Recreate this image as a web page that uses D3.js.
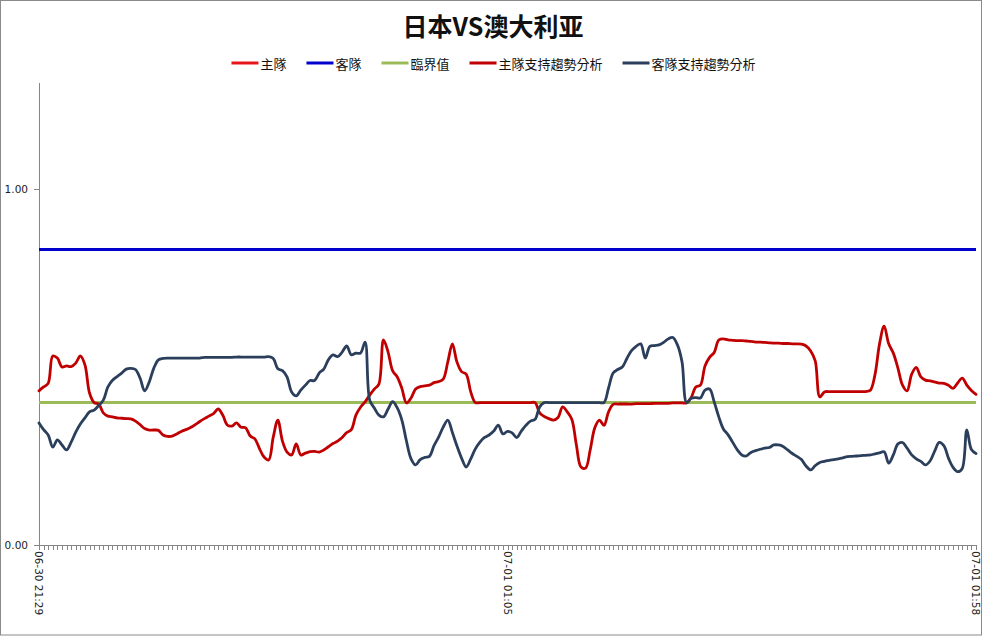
<!DOCTYPE html>
<html><head><meta charset="utf-8">
<script src="https://cdn.jsdelivr.net/npm/d3@7"></script>
<style>body{margin:0;background:#fff} svg{display:block}</style>
</head><body>
<svg id="c" width="983" height="636"></svg>
<script>
const chartTitle = "日本VS澳大利亚";
const seriesNames = ["主隊","客隊","臨界值","主隊支持趨勢分析","客隊支持趨勢分析"];
const seriesColors = ["#E8141C","#0000CC","#9BBB59","#C00000","#2B3F5C"];

// 主隊 line is not visible in the plotted range
const homeOdds = null;
const awayOdds = 0.83;
const threshold = 0.40;

const homeTrend = [
0.433,0.444,0.454,0.531,0.525,0.500,0.503,0.501,0.511,0.531,
0.506,0.427,0.400,0.396,0.371,0.362,0.360,0.357,0.356,0.355,
0.354,0.348,0.338,0.327,0.323,0.323,0.322,0.309,0.305,0.306,
0.312,0.319,0.324,0.330,0.338,0.347,0.355,0.362,0.369,0.382,
0.365,0.337,0.334,0.343,0.331,0.329,0.306,0.298,0.271,0.247,
0.239,0.303,0.351,0.292,0.261,0.253,0.284,0.253,0.258,0.262,
0.263,0.261,0.267,0.276,0.285,0.292,0.302,0.316,0.324,0.365,
0.387,0.402,0.421,0.438,0.452,0.576,0.542,0.489,0.472,0.440,
0.399,0.413,0.438,0.445,0.447,0.449,0.456,0.459,0.466,0.514,
0.565,0.514,0.487,0.480,0.430,0.400,0.400,0.400,0.400,0.400,
0.400,0.400,0.400,0.400,0.400,0.400,0.400,0.400,0.400,0.371,
0.361,0.355,0.351,0.358,0.388,0.374,0.353,0.281,0.219,0.216,
0.267,0.329,0.351,0.336,0.374,0.395,0.396,0.396,0.396,0.396,
0.397,0.397,0.397,0.397,0.398,0.398,0.398,0.398,0.399,0.399,
0.399,0.399,0.414,0.444,0.449,0.503,0.527,0.541,0.576,0.579,
0.576,0.575,0.574,0.574,0.573,0.572,0.570,0.570,0.569,0.568,
0.567,0.567,0.566,0.566,0.565,0.565,0.564,0.559,0.545,0.517,
0.416,0.430,0.431,0.431,0.431,0.431,0.431,0.431,0.431,0.431,
0.431,0.435,0.478,0.565,0.615,0.565,0.539,0.497,0.449,0.433,
0.480,0.499,0.472,0.463,0.461,0.458,0.455,0.454,0.449,0.440,
0.455,0.469,0.449,0.434,0.423
];

const awayTrend = [
0.343,0.324,0.309,0.275,0.295,0.281,0.267,0.289,0.317,0.340,
0.357,0.374,0.379,0.392,0.407,0.444,0.463,0.473,0.483,0.494,
0.496,0.493,0.469,0.433,0.458,0.497,0.520,0.524,0.525,0.525,
0.525,0.525,0.525,0.525,0.525,0.525,0.527,0.527,0.527,0.527,
0.527,0.527,0.527,0.528,0.528,0.528,0.528,0.528,0.528,0.528,
0.529,0.524,0.495,0.490,0.472,0.430,0.419,0.435,0.449,0.462,
0.462,0.483,0.494,0.520,0.534,0.529,0.542,0.559,0.534,0.539,
0.539,0.570,0.407,0.385,0.365,0.360,0.382,0.403,0.385,0.351,
0.292,0.242,0.225,0.240,0.246,0.249,0.279,0.303,0.331,0.351,
0.316,0.278,0.244,0.219,0.242,0.270,0.289,0.302,0.309,0.320,
0.337,0.312,0.319,0.315,0.302,0.320,0.336,0.348,0.353,0.388,
0.400,0.400,0.400,0.400,0.400,0.400,0.400,0.400,0.400,0.400,
0.400,0.400,0.400,0.400,0.441,0.483,0.493,0.500,0.524,0.546,
0.558,0.565,0.525,0.558,0.560,0.562,0.569,0.579,0.583,0.562,
0.514,0.400,0.412,0.414,0.413,0.435,0.438,0.402,0.360,0.326,
0.310,0.289,0.268,0.253,0.250,0.260,0.265,0.269,0.272,0.274,
0.281,0.281,0.277,0.267,0.257,0.249,0.240,0.222,0.211,0.223,
0.232,0.235,0.238,0.240,0.242,0.245,0.248,0.249,0.250,0.251,
0.252,0.253,0.256,0.259,0.262,0.230,0.253,0.284,0.288,0.272,
0.253,0.242,0.235,0.225,0.236,0.264,0.288,0.279,0.244,0.218,
0.206,0.215,0.323,0.268,0.257
];

const xTickIndex = [0, 102, 204];
const xTickLabels = ["06-30 21:29","07-01 01:05","07-01 01:58"];
const yTicks = [0, 1];
const yMax = 1.3;

const W = 983, H = 636;
const N = awayTrend.length;
const categories = d3.range(N);
const svg = d3.select("#c");
const axisColor = "#868686";

svg.append("rect").attr("x",0.5).attr("y",0.5).attr("width",981).attr("height",634.5)
  .attr("fill","#fff").attr("stroke","#8a8a8a");

const x = d3.scalePoint().domain(categories).range([39, 976]);
const y = d3.scaleLinear().domain([0, yMax]).range([545, 545 - yMax*356]);

// Y axis
const gy = svg.append("g").attr("transform","translate(39,0)")
  .call(d3.axisLeft(y).tickValues(yTicks).tickSize(5).tickSizeOuter(0).tickPadding(6).tickFormat(d3.format(".2f")));
gy.selectAll("path,line").attr("stroke",axisColor).attr("shape-rendering","crispEdges");
gy.selectAll("text").attr("font-family","DejaVu Sans, sans-serif").attr("font-size","10.5px").attr("fill","#222");

// X axis
const gx = svg.append("g").attr("transform","translate(0,545)")
  .call(d3.axisBottom(x).tickValues(categories).tickSize(5).tickSizeOuter(0).tickFormat(""));
gx.selectAll("path,line").attr("stroke",axisColor).attr("shape-rendering","crispEdges");
gx.selectAll("text").remove();
xTickIndex.forEach((idx, k) => {
  svg.append("text")
    .attr("transform", `translate(${x(Math.min(idx, N-1))},551) rotate(90)`)
    .attr("text-anchor","start").attr("dominant-baseline","central")
    .attr("font-family","DejaVu Sans, sans-serif").attr("font-size","10.5px").attr("fill","#222")
    .text(xTickLabels[k]);
});

// constant lines
const flatLine = v => d3.line().x(d => x(d)).y(() => y(v))([0, N-1]);
svg.append("path").attr("d", flatLine(threshold)).attr("stroke", seriesColors[2])
  .attr("stroke-width",3).attr("fill","none");
svg.append("path").attr("d", flatLine(awayOdds)).attr("stroke", seriesColors[1])
  .attr("stroke-width",3).attr("fill","none");

const trendLine = d3.line().x((d,i) => x(i)).y(d => y(d)).curve(d3.curveCatmullRom.alpha(0.5));
svg.append("path").attr("d", trendLine(homeTrend)).attr("stroke", seriesColors[3])
  .attr("stroke-width",2.8).attr("fill","none").attr("stroke-linejoin","round").attr("stroke-linecap","round");
svg.append("path").attr("d", trendLine(awayTrend)).attr("stroke", seriesColors[4])
  .attr("stroke-width",2.8).attr("fill","none").attr("stroke-linejoin","round").attr("stroke-linecap","round");

// Title
svg.append("text").attr("x", 493).attr("y", 25).attr("text-anchor","middle")
  .attr("dominant-baseline","central")
  .attr("font-family","'Noto Sans CJK SC', sans-serif").attr("font-weight","bold")
  .attr("font-size","25px").attr("fill","#111").text(chartTitle);

// Legend
const lg = svg.append("g");
let cx = 0;
const legendY = 63;
seriesNames.forEach((name, i) => {
  const g = lg.append("g").attr("transform", `translate(${cx},0)`);
  g.append("line").attr("x1",0).attr("x2",27).attr("y1",legendY).attr("y2",legendY)
    .attr("stroke", seriesColors[i]).attr("stroke-width",3);
  const t = g.append("text").attr("x",29).attr("y",legendY).attr("dominant-baseline","central")
    .attr("font-family","'Noto Sans CJK TC', 'Noto Sans CJK SC', sans-serif").attr("font-size","13px")
    .attr("fill","#111").text(name);
  cx += 29 + t.node().getComputedTextLength() + 20;
});
const totalW = cx - 20;
lg.attr("transform", `translate(${493.5 - totalW/2},0)`);
</script>
</body></html>
